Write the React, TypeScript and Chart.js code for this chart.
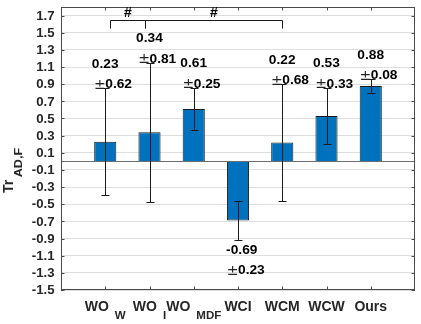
import React, { useEffect, useRef } from 'react';
import { Chart, registerables } from 'chart.js';

Chart.register(...registerables);

// ---- data ----
const categoryMain = ['WO', 'WO', 'WO', 'WCI', 'WCM', 'WCW', 'Ours'];
const categorySub = ['W', 'I', 'MDF', '', '', '', ''];
const means = [0.23, 0.34, 0.61, -0.69, 0.22, 0.53, 0.88];
const errors = [0.62, 0.81, 0.25, 0.23, 0.68, 0.33, 0.08];
const yTicks = [-1.5, -1.3, -1.1, -0.9, -0.7, -0.5, -0.3, -0.1, 0.1, 0.3, 0.5, 0.7, 0.9, 1.1, 1.3, 1.5, 1.7];
const yMin = -1.5;
const yMax = 1.8;
const yTitleMain = 'Tr';
const yTitleSub = 'AD,F';
// significance brackets: positions in category-index units (1 = first category)
const bracketFrom = [1.1, 1.9];
const bracketTo = [1.9, 5.0];
const bracketLabel = ['#', '#'];
const bracketTop = 1.65;
const bracketBottom = 1.55;

const slotLabels = ['', ...categoryMain.map((c, i) => c + (categorySub[i] ? '_' + categorySub[i] : '')), ''];

function drawText(
  ctx: CanvasRenderingContext2D,
  s: string,
  x: number,
  y: number,
  font: string,
  align: 'left' | 'center' | 'right',
  sx = 1,
  color = '#000'
) {
  ctx.save();
  ctx.font = font;
  const w = ctx.measureText(s).width * sx;
  const x0 = align === 'center' ? x - w / 2 : align === 'right' ? x - w : x;
  ctx.translate(x0, y);
  ctx.scale(sx, 1);
  ctx.textAlign = 'left';
  ctx.textBaseline = 'alphabetic';
  ctx.fillStyle = color;
  ctx.fillText(s, 0, 0);
  ctx.restore();
  return w;
}

function measure(ctx: CanvasRenderingContext2D, s: string, font: string, sx = 1) {
  ctx.save();
  ctx.font = font;
  const w = ctx.measureText(s).width * sx;
  ctx.restore();
  return w;
}

const NUM_FONT = 'bold 12.5px "Liberation Sans", Arial, sans-serif';
const NUM_SX = 1.1;
const PM_FONT = '14px "DejaVu Sans", sans-serif';
const TICK_FONT = 'bold 12px "Liberation Sans", Arial, sans-serif';
const TICK_SX = 1.1;
const XLAB_FONT = 'bold 14px "Liberation Sans", Arial, sans-serif';
const XSUB_FONT = 'bold 11px "Liberation Sans", Arial, sans-serif';

const overlayPlugin = {
  id: 'overlay',
  afterDatasetsDraw(chart: any) {
    const ctx: CanvasRenderingContext2D = chart.ctx;
    const xs = chart.scales.x;
    const ys = chart.scales.y;
    const ca = chart.chartArea;
    const L = Math.round(ca.left), R = Math.round(ca.right), T = Math.round(ca.top), B = Math.round(ca.bottom);

    ctx.save();
    // zero baseline
    const y0 = Math.round(ys.getPixelForValue(0)) + 0.5;
    ctx.strokeStyle = '#6e6e6e';
    ctx.lineWidth = 1;
    ctx.beginPath();
    ctx.moveTo(L, y0);
    ctx.lineTo(R, y0);
    ctx.stroke();

    // error bars
    ctx.strokeStyle = '#1a1a1a';
    means.forEach((m, i) => {
      const x = Math.round(xs.getPixelForValue(i + 1)) + 0.5;
      const yt = Math.round(ys.getPixelForValue(m + errors[i])) + 0.5;
      const yb = Math.round(ys.getPixelForValue(m - errors[i])) + 0.5;
      ctx.beginPath();
      ctx.moveTo(x, yt);
      ctx.lineTo(x, yb);
      ctx.moveTo(x - 4, yt);
      ctx.lineTo(x + 4, yt);
      ctx.moveTo(x - 4, yb);
      ctx.lineTo(x + 4, yb);
      ctx.stroke();
    });

    // annotations
    means.forEach((m, i) => {
      const x = xs.getPixelForValue(i + 1);
      const e = errors[i];
      const valStr = m.toFixed(2);
      const errStr = e.toFixed(2);
      if (m >= 0) {
        const yt = ys.getPixelForValue(m + e);
        drawText(ctx, valStr, x, yt - 20.5, NUM_FONT, 'center', NUM_SX);
        drawText(ctx, '\u00b1', x + 0.5, yt + 0.5, PM_FONT, 'right', 1, '#222');
        drawText(ctx, errStr, x, yt, NUM_FONT, 'left', NUM_SX);
      } else {
        const yb = ys.getPixelForValue(m - e);
        const signW = measure(ctx, '-', NUM_FONT, NUM_SX);
        drawText(ctx, valStr, x + signW / 2 + 1.5, yb + 14, NUM_FONT, 'center', NUM_SX);
        drawText(ctx, '\u00b1', x + 0.5, yb + 34.5, PM_FONT, 'right', 1, '#222');
        drawText(ctx, errStr, x, yb + 34, NUM_FONT, 'left', NUM_SX);
      }
    });

    // frame
    ctx.strokeStyle = '#4a4a4a';
    ctx.lineWidth = 1;
    ctx.strokeRect(L + 0.5, T + 0.5, R - L - 1, B - T - 1);

    // ticks (inward)
    ctx.beginPath();
    yTicks.forEach((v) => {
      const y = Math.round(ys.getPixelForValue(v)) + 0.5;
      ctx.moveTo(L, y);
      ctx.lineTo(L + 3.5, y);
      ctx.moveTo(R, y);
      ctx.lineTo(R - 3.5, y);
    });
    means.forEach((_, i) => {
      const x = Math.round(xs.getPixelForValue(i + 1)) + 0.5;
      ctx.moveTo(x, T);
      ctx.lineTo(x, T + 3.5);
      ctx.moveTo(x, B);
      ctx.lineTo(x, B - 3.5);
    });
    ctx.stroke();

    // brackets
    ctx.strokeStyle = '#1a1a1a';
    bracketFrom.forEach((f, k) => {
      const x1 = Math.round(xs.getPixelForValue(f)) + 0.5;
      const x2 = Math.round(xs.getPixelForValue(bracketTo[k])) + 0.5;
      const yT = Math.round(ys.getPixelForValue(bracketTop)) + 0.5;
      const yB = Math.round(ys.getPixelForValue(bracketBottom)) + 0.5;
      ctx.beginPath();
      ctx.moveTo(x1, yB);
      ctx.lineTo(x1, yT);
      ctx.lineTo(x2, yT);
      ctx.lineTo(x2, yB);
      ctx.stroke();
      drawText(ctx, bracketLabel[k], (x1 + x2) / 2, yT - 3.5, 'bold 14px "Liberation Sans", Arial, sans-serif', 'center');
    });

    // y tick labels
    yTicks.forEach((v) => {
      const y = ys.getPixelForValue(v);
      drawText(ctx, v.toFixed(1), L - 6.5, y + 4.2, TICK_FONT, 'right', TICK_SX, '#262626');
    });

    // x labels
    categoryMain.forEach((c, i) => {
      const x = xs.getPixelForValue(i + 1);
      const sub = categorySub[i];
      const wMain = measure(ctx, c, XLAB_FONT);
      const gap = sub ? 6 : 0;
      const wSub = sub ? measure(ctx, sub, XSUB_FONT, 1.05) : 0;
      const total = wMain + gap + wSub;
      const x0 = x - total / 2;
      drawText(ctx, c, x0, B + 21, XLAB_FONT, 'left', 1, '#262626');
      if (sub) drawText(ctx, sub, x0 + wMain + gap, B + 29, XSUB_FONT, 'left', 1.05, '#262626');
    });

    // y title (rotated)
    ctx.save();
    ctx.translate(13, 193);
    ctx.rotate(-Math.PI / 2);
    const wTr = drawText(ctx, yTitleMain, 0, 0, 'bold 14px "Liberation Sans", Arial, sans-serif', 'left', 1, '#262626');
    drawText(ctx, yTitleSub, wTr + 2.5, 9.3, 'bold 11px "Liberation Sans", Arial, sans-serif', 'left', 1.15, '#262626');
    ctx.restore();

    ctx.restore();
  },
};

export default function App() {
  const ref = useRef<HTMLCanvasElement | null>(null);
  useEffect(() => {
    if (!ref.current) return;
    const chart = new Chart(ref.current, {
      type: 'bar',
      data: {
        labels: slotLabels,
        datasets: [
          {
            data: [null, ...means, null] as any,
            backgroundColor: '#0072BD',
            borderColor: '#1c1c1c',
            borderWidth: 1,
            categoryPercentage: 0.5,
            barPercentage: 1,
          },
        ],
      },
      options: {
        animation: false,
        responsive: false,
        devicePixelRatio: 1,
        layout: { padding: { left: 61, top: 7, right: 6, bottom: 34 } },
        plugins: { legend: { display: false }, tooltip: { enabled: false } },
        scales: {
          x: {
            type: 'category',
            offset: false,
            grid: { display: false, drawTicks: false },
            ticks: { display: false },
            border: { display: false },
          },
          y: {
            type: 'linear',
            min: yMin,
            max: yMax,
            afterBuildTicks: (s: any) => {
              s.ticks = yTicks.map((v) => ({ value: v }));
            },
            grid: { color: '#dedede', drawTicks: false },
            ticks: { display: false },
            border: { display: false },
          },
        },
      },
      plugins: [overlayPlugin],
    });
    return () => chart.destroy();
  }, []);
  return (
    <div style={{ position: 'absolute', left: 0, top: 0, width: 421, height: 324, background: '#fff' }}>
      <canvas ref={ref} width={421} height={324} style={{ display: 'block', width: 421, height: 324 }} />
    </div>
  );
}
